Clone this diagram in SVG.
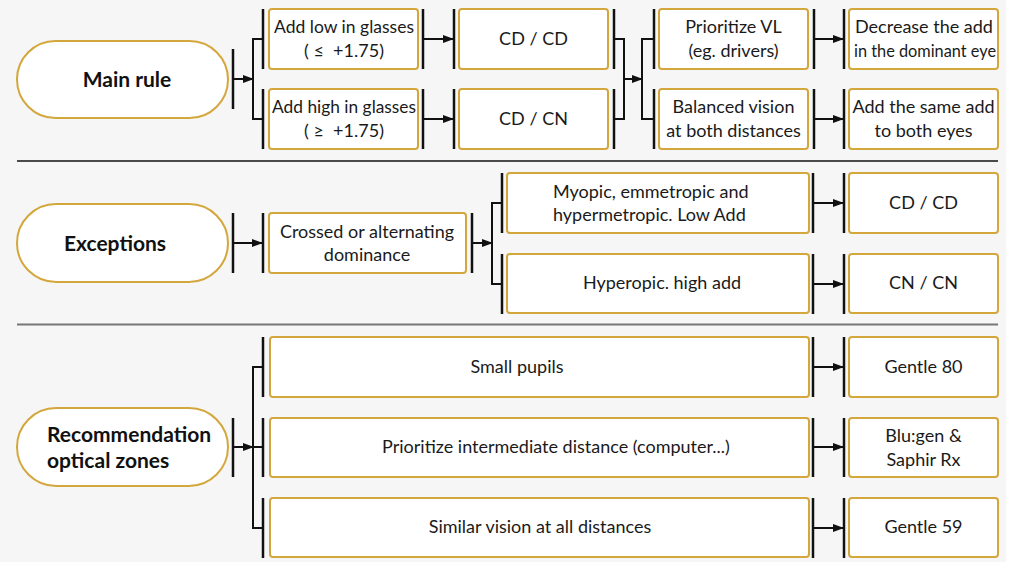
<svg xmlns="http://www.w3.org/2000/svg" width="1014" height="562" viewBox="0 0 1014 562">
<defs>
<style>
.pill{fill:#fff;stroke:#d4a73c;stroke-width:2}
.box{fill:#fff;stroke:#d4a73c;stroke-width:2}
.bar{stroke:#111;stroke-width:2.5;fill:none}
.ln{stroke:#111;stroke-width:2;fill:none}
.arr{stroke:#111;stroke-width:2;fill:none;marker-end:url(#ah)}
.t{font-family:Lato,"Liberation Sans",sans-serif;font-size:18px;fill:#1a1a1a;text-anchor:middle}
.b{font-family:Lato,"Liberation Sans",sans-serif;font-size:21px;font-weight:bold;fill:#111;text-anchor:middle}
.s{text-anchor:start}
</style>
<marker id="ah" markerWidth="11" markerHeight="8" refX="10" refY="4" orient="auto" markerUnits="userSpaceOnUse">
<path d="M0,0 L11,4 L0,8 z" fill="#111"/>
</marker>
</defs>
<rect x="0" y="0" width="1014" height="562" fill="#fff"/>
<rect x="0" y="0" width="1006" height="562" fill="#f6f6f6"/>
<line x1="17" y1="161" x2="998" y2="161" stroke="#111" stroke-width="1.5"/>
<line x1="17" y1="324.5" x2="998" y2="324.5" stroke="#777" stroke-width="2"/>

<g id="connectors">
<line class="bar" x1="233" y1="49" x2="233" y2="109"/>
<line class="arr" x1="233" y1="79" x2="253" y2="79"/>
<path class="ln" d="M263,39 H253 V119 H263"/>
<line class="bar" x1="263" y1="9" x2="263" y2="69"/>
<line class="bar" x1="263" y1="89" x2="263" y2="149"/>
<line class="bar" x1="423" y1="9" x2="423" y2="69"/>
<line class="bar" x1="423" y1="89" x2="423" y2="149"/>
<line class="arr" x1="423" y1="39" x2="453" y2="39"/>
<line class="arr" x1="423" y1="119" x2="453" y2="119"/>
<line class="bar" x1="454" y1="9" x2="454" y2="69"/>
<line class="bar" x1="454" y1="89" x2="454" y2="149"/>
<line class="bar" x1="614" y1="9" x2="614" y2="69"/>
<line class="bar" x1="614" y1="89" x2="614" y2="149"/>
<path class="ln" d="M614,39 H624 V119 H614"/>
<line class="arr" x1="624" y1="79" x2="642" y2="79"/>
<path class="ln" d="M654,39 H642 V119 H654"/>
<line class="bar" x1="654" y1="9" x2="654" y2="69"/>
<line class="bar" x1="654" y1="89" x2="654" y2="149"/>
<line class="bar" x1="814" y1="9" x2="814" y2="69"/>
<line class="bar" x1="814" y1="89" x2="814" y2="149"/>
<line class="arr" x1="814" y1="39" x2="843" y2="39"/>
<line class="arr" x1="814" y1="119" x2="843" y2="119"/>
<line class="bar" x1="844" y1="9" x2="844" y2="69"/>
<line class="bar" x1="844" y1="89" x2="844" y2="149"/>
<line class="bar" x1="233" y1="213" x2="233" y2="273"/>
<line class="arr" x1="233" y1="243" x2="262" y2="243"/>
<line class="bar" x1="263" y1="213" x2="263" y2="273"/>
<line class="bar" x1="472" y1="213" x2="472" y2="273"/>
<line class="arr" x1="472" y1="243" x2="492" y2="243"/>
<path class="ln" d="M502,203 H492 V284 H502"/>
<line class="bar" x1="502" y1="173" x2="502" y2="233"/>
<line class="bar" x1="502" y1="254" x2="502" y2="314"/>
<line class="bar" x1="813" y1="173" x2="813" y2="233"/>
<line class="bar" x1="813" y1="254" x2="813" y2="314"/>
<line class="arr" x1="813" y1="203" x2="843" y2="203"/>
<line class="arr" x1="813" y1="284" x2="843" y2="284"/>
<line class="bar" x1="844" y1="173" x2="844" y2="233"/>
<line class="bar" x1="844" y1="254" x2="844" y2="314"/>
<line class="bar" x1="233" y1="418" x2="233" y2="477"/>
<line class="arr" x1="233" y1="447" x2="253" y2="447"/>
<path class="ln" d="M263,367 H253 V528 H263 M253,447 H263"/>
<line class="bar" x1="263" y1="337" x2="263" y2="397"/>
<line class="bar" x1="263" y1="418" x2="263" y2="477"/>
<line class="bar" x1="263" y1="498" x2="263" y2="558"/>
<line class="bar" x1="813" y1="337" x2="813" y2="397"/>
<line class="bar" x1="813" y1="418" x2="813" y2="477"/>
<line class="bar" x1="813" y1="498" x2="813" y2="558"/>
<line class="arr" x1="813" y1="367" x2="843" y2="367"/>
<line class="arr" x1="813" y1="447" x2="843" y2="447"/>
<line class="arr" x1="813" y1="528" x2="843" y2="528"/>
<line class="bar" x1="844" y1="337" x2="844" y2="397"/>
<line class="bar" x1="844" y1="418" x2="844" y2="477"/>
<line class="bar" x1="844" y1="498" x2="844" y2="558"/>
</g>

<g id="main-rule"><rect class="pill" x="17" y="41" width="211" height="77" rx="38.5"/><text class="b" x="127" y="87">Main rule</text></g>
<g id="add-low"><rect class="box" x="269" y="9" width="149" height="60" rx="3"/><text class="t" x="344" y="33" textLength="140" lengthAdjust="spacingAndGlyphs">Add low in glasses</text><text class="t" x="344" y="57">( ≤ &#160;+1.75)</text></g>
<g id="add-high"><rect class="box" x="269" y="89" width="149" height="60" rx="3"/><text class="t" x="344" y="113" textLength="144" lengthAdjust="spacingAndGlyphs">Add high in glasses</text><text class="t" x="344" y="137">( ≥ &#160;+1.75)</text></g>
<g id="cd-cd-1"><rect class="box" x="459" y="9" width="149" height="60" rx="3"/><text class="t" x="533.5" y="45">CD / CD</text></g>
<g id="cd-cn"><rect class="box" x="459" y="89" width="149" height="60" rx="3"/><text class="t" x="533.5" y="125">CD / CN</text></g>
<g id="prioritize-vl"><rect class="box" x="659" y="9" width="149" height="60" rx="3"/><text class="t" x="733.5" y="33">Prioritize VL</text><text class="t" x="733.5" y="57">(eg. drivers)</text></g>
<g id="balanced"><rect class="box" x="659" y="89" width="149" height="60" rx="3"/><text class="t" x="733.5" y="113">Balanced vision</text><text class="t" x="733.5" y="137">at both distances</text></g>
<g id="decrease"><rect class="box" x="849" y="9" width="149" height="60" rx="3"/><text class="t" x="924" y="33">Decrease the add</text><text class="t" x="925" y="57" textLength="142" lengthAdjust="spacingAndGlyphs">in the dominant eye</text></g>
<g id="same-add"><rect class="box" x="849" y="89" width="149" height="60" rx="3"/><text class="t" x="923.5" y="113">Add the same add</text><text class="t" x="923.5" y="137">to both eyes</text></g>

<g id="exceptions"><rect class="pill" x="17" y="204" width="211" height="78" rx="39"/><text class="b" x="115" y="251">Exceptions</text></g>
<g id="crossed"><rect class="box" x="269" y="213" width="197" height="60" rx="3"/><text class="t" x="367" y="238">Crossed or alternating</text><text class="t" x="367" y="261">dominance</text></g>
<g id="myopic"><rect class="box" x="507" y="173" width="302" height="60" rx="3"/><text class="t s" x="553" y="198">Myopic, emmetropic and</text><text class="t s" x="553" y="221">hypermetropic. Low Add</text></g>
<g id="hyperopic"><rect class="box" x="507" y="254" width="302" height="59" rx="3"/><text class="t" x="662" y="289">Hyperopic. high add</text></g>
<g id="cd-cd-2"><rect class="box" x="849" y="173" width="149" height="60" rx="3"/><text class="t" x="923.5" y="209">CD / CD</text></g>
<g id="cn-cn"><rect class="box" x="849" y="254" width="149" height="59" rx="3"/><text class="t" x="923.5" y="289">CN / CN</text></g>

<g id="recommendation"><rect class="pill" x="17" y="408" width="211" height="78" rx="39"/><text class="b s" x="47" y="442">Recommendation</text><text class="b s" x="47" y="468">optical zones</text></g>
<g id="small-pupils"><rect class="box" x="270" y="337" width="539" height="60" rx="3"/><text class="t" x="517" y="373">Small pupils</text></g>
<g id="intermediate"><rect class="box" x="270" y="418" width="539" height="59" rx="3"/><text class="t" x="556" y="453">Prioritize intermediate distance (computer...)</text></g>
<g id="similar"><rect class="box" x="270" y="498" width="539" height="59" rx="3"/><text class="t" x="540" y="533">Similar vision at all distances</text></g>
<g id="gentle-80"><rect class="box" x="849" y="337" width="149" height="60" rx="3"/><text class="t" x="923.5" y="373">Gentle 80</text></g>
<g id="blugen"><rect class="box" x="849" y="418" width="149" height="59" rx="3"/><text class="t" x="923.5" y="442">Blu:gen &amp;</text><text class="t" x="923.5" y="466">Saphir Rx</text></g>
<g id="gentle-59"><rect class="box" x="849" y="498" width="149" height="59" rx="3"/><text class="t" x="923.5" y="533">Gentle 59</text></g>
</svg>
